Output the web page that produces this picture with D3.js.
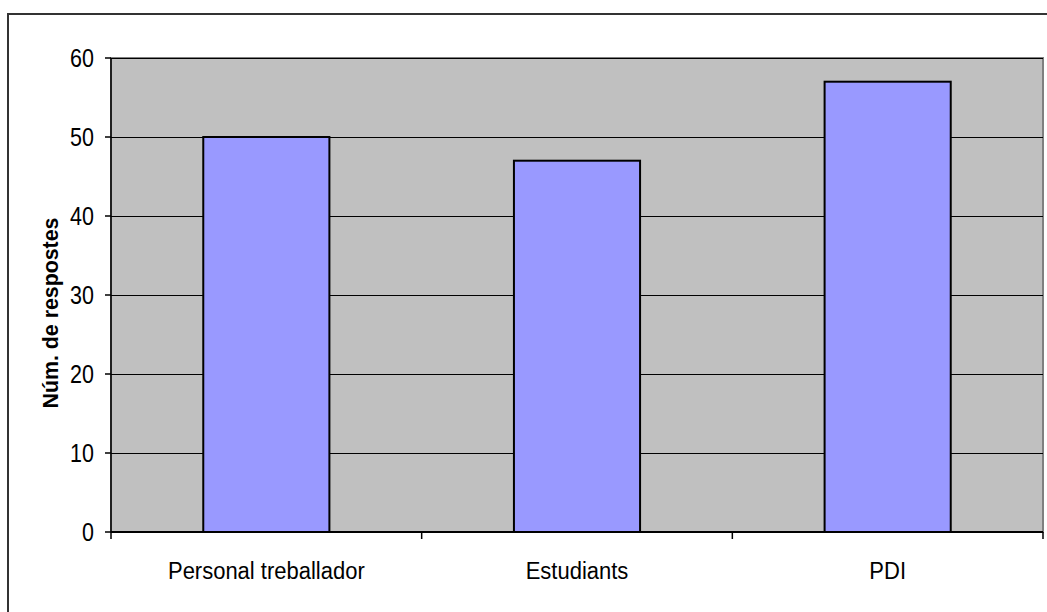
<!DOCTYPE html>
<html>
<head>
<meta charset="utf-8">
<script src="https://cdn.jsdelivr.net/npm/d3@7"></script>
<style>
  html, body { margin: 0; padding: 0; background: #fff; }
  svg { display: block; }
  text { font-family: "Liberation Sans", Arial, sans-serif; fill: #000; }
</style>
</head>
<body>
<div id="chart"></div>
<script>
const categories = ["Personal treballador", "Estudiants", "PDI"];
const values = [50, 47, 57];
const yTicks = [0, 10, 20, 30, 40, 50, 60];
const yTitle = "Núm. de respostes";

const W = 1047, H = 612;
const plot = { left: 111, top: 58, right: 1043, bottom: 532 };

const svg = d3.select("#chart").append("svg")
  .attr("width", W).attr("height", H);

// outer frame
svg.append("rect")
  .attr("x", 8).attr("y", 14)
  .attr("width", W + 20).attr("height", H + 20)
  .attr("fill", "none").attr("stroke", "#333").attr("stroke-width", 2);

const x = d3.scaleBand()
  .domain(categories)
  .range([plot.left, plot.right])
  .paddingInner(0.594)
  .paddingOuter(0.297);

const y = d3.scaleLinear()
  .domain([0, 60])
  .range([plot.bottom, plot.top]);

// plot area
svg.append("rect")
  .attr("x", plot.left).attr("y", plot.top)
  .attr("width", plot.right - plot.left).attr("height", plot.bottom - plot.top)
  .attr("fill", "#C0C0C0").attr("stroke", "#808080").attr("stroke-width", 2);

// gridlines
svg.append("g").selectAll("line")
  .data(yTicks.filter(d => d > 0))
  .join("line")
  .attr("x1", plot.left).attr("x2", plot.right)
  .attr("y1", d => Math.round(y(d)) + 0.5).attr("y2", d => Math.round(y(d)) + 0.5)
  .attr("stroke", "#000").attr("stroke-width", 1);

// bars
svg.append("g").selectAll("rect")
  .data(categories.map((c, i) => ({ c, v: values[i] })))
  .join("rect")
  .attr("x", d => x(d.c))
  .attr("y", d => y(d.v))
  .attr("width", x.bandwidth())
  .attr("height", d => y(0) - y(d.v))
  .attr("fill", "#9999FF")
  .attr("stroke", "#000").attr("stroke-width", 2);

// y axis
const yAxis = svg.append("g").attr("transform", `translate(${plot.left},0)`);
yAxis.append("line")
  .attr("x1", 0).attr("x2", 0).attr("y1", plot.top).attr("y2", plot.bottom)
  .attr("stroke", "#000").attr("stroke-width", 1.5);
yAxis.selectAll(".tick").data(yTicks).join("line")
  .attr("x1", -6).attr("x2", 0)
  .attr("y1", d => y(d)).attr("y2", d => y(d))
  .attr("stroke", "#000").attr("stroke-width", 1.5);
yAxis.selectAll("text").data(yTicks).join("text")
  .attr("transform", d => `translate(-17,${y(d) + 9}) scale(1,1.18)`)
  .attr("text-anchor", "end")
  .style("font-size", "21.5px")
  .text(d => d);

// x axis
const bounds = [plot.left, ...categories.map(c => x(c) + x.bandwidth() + x.step() * x.paddingInner() / 2)];
const xAxis = svg.append("g");
xAxis.append("line")
  .attr("x1", plot.left).attr("x2", plot.right)
  .attr("y1", plot.bottom).attr("y2", plot.bottom)
  .attr("stroke", "#000").attr("stroke-width", 2);
xAxis.selectAll(".tick").data(bounds).join("line")
  .attr("x1", d => d).attr("x2", d => d)
  .attr("y1", plot.bottom).attr("y2", plot.bottom + 7)
  .attr("stroke", "#000").attr("stroke-width", 1.5);
xAxis.selectAll("text").data(categories).join("text")
  .attr("transform", d => `translate(${x(d) + x.bandwidth() / 2},579) scale(1,1.1)`)
  .attr("text-anchor", "middle")
  .style("font-size", "22px")
  .text(d => d);

// y title
svg.append("text")
  .attr("transform", `translate(58,313) rotate(-90) scale(0.97,1)`)
  .attr("text-anchor", "middle")
  .style("font-size", "22px")
  .style("font-weight", "bold")
  .text(yTitle);
</script>
</body>
</html>
